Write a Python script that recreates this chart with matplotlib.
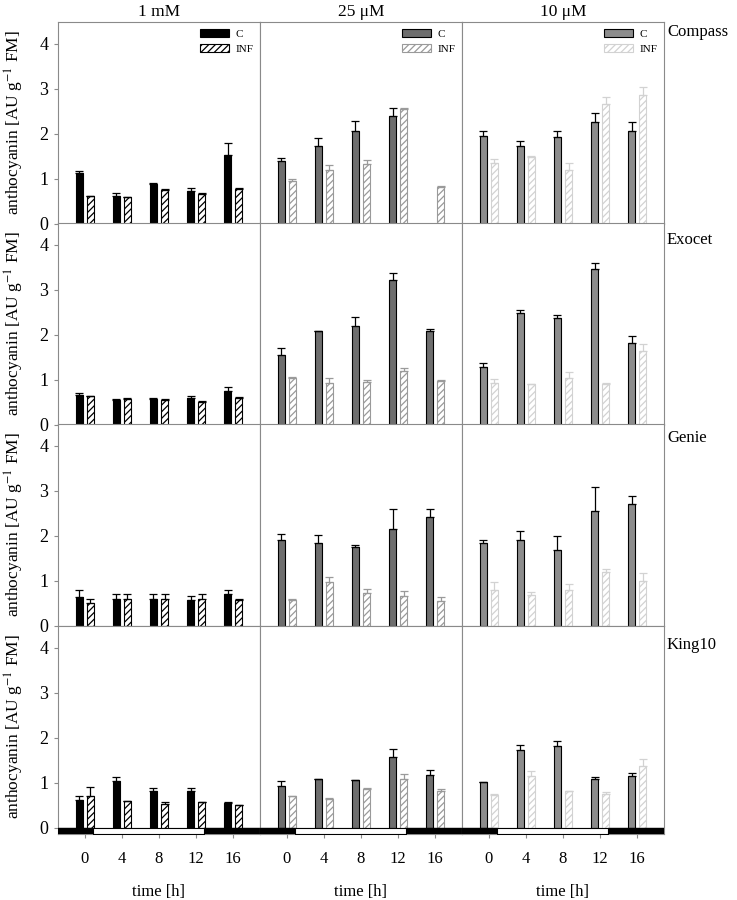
import numpy as np
import matplotlib
matplotlib.use('Agg')
import matplotlib.pyplot as plt
from matplotlib.patches import Patch

plt.rcParams['font.family'] = ['Liberation Serif', 'DejaVu Serif']
plt.rcParams['mathtext.fontset'] = 'stix'
plt.rcParams['hatch.linewidth'] = 0.9

# data: rows = concentration (1 mM, 25 uM, 10 uM), cols = time 0..16 h
times = [0, 4, 8, 12, 16]
concentrations = ['1 mM', '25 \u03bcM', '10 \u03bcM']
cultivars = ['Compass', 'Exocet', 'Genie', 'King10']

compass_c = [[1.13, 0.61, 0.87, 0.72, 1.52],
             [1.38, 1.72, 2.06, 2.39, np.nan],
             [1.95, 1.72, 1.93, 2.25, 2.05]]
compass_c_err = [[0.04, 0.07, 0.03, 0.06, 0.26],
                 [0.08, 0.17, 0.22, 0.17, np.nan],
                 [0.11, 0.12, 0.12, 0.20, 0.21]]
compass_inf = [[0.61, 0.59, 0.75, 0.66, 0.77],
               [0.94, 1.20, 1.32, 2.54, 0.81],
               [1.35, 1.48, 1.20, 2.65, 2.85]]
compass_inf_err = [[0.01, 0.01, 0.01, 0.01, 0.01],
                   [0.06, 0.09, 0.10, 0.02, 0.02],
                   [0.08, 0.01, 0.15, 0.17, 0.19]]

exocet_c = [[0.65, 0.55, 0.57, 0.58, 0.75],
            [1.55, 2.07, 2.20, 3.21, 2.07],
            [1.28, 2.47, 2.37, 3.46, 1.81]]
exocet_c_err = [[0.06, 0.02, 0.02, 0.05, 0.09],
                [0.14, 0.01, 0.18, 0.16, 0.05],
                [0.09, 0.08, 0.06, 0.14, 0.15]]
exocet_inf = [[0.63, 0.57, 0.55, 0.51, 0.60],
              [1.04, 0.92, 0.95, 1.19, 0.97],
              [0.93, 0.90, 1.04, 0.91, 1.63]]
exocet_inf_err = [[0.01, 0.01, 0.01, 0.01, 0.01],
                  [0.01, 0.12, 0.05, 0.06, 0.02],
                  [0.09, 0.01, 0.12, 0.01, 0.15]]

genie_c = [[0.63, 0.59, 0.58, 0.56, 0.70],
           [1.90, 1.84, 1.75, 2.14, 2.41],
           [1.83, 1.89, 1.68, 2.54, 2.71]]
genie_c_err = [[0.15, 0.11, 0.12, 0.10, 0.08],
               [0.13, 0.17, 0.04, 0.44, 0.18],
               [0.08, 0.20, 0.30, 0.53, 0.16]]
genie_inf = [[0.51, 0.59, 0.58, 0.59, 0.56],
             [0.57, 0.96, 0.72, 0.65, 0.55],
             [0.78, 0.67, 0.80, 1.19, 0.99]]
genie_inf_err = [[0.08, 0.10, 0.12, 0.10, 0.04],
                 [0.01, 0.11, 0.09, 0.11, 0.08],
                 [0.19, 0.08, 0.13, 0.06, 0.17]]

king10_c = [[0.61, 1.03, 0.82, 0.82, 0.54],
            [0.93, 1.07, 1.05, 1.56, 1.17],
            [1.01, 1.73, 1.81, 1.07, 1.14]]
king10_c_err = [[0.09, 0.10, 0.05, 0.06, 0.02],
                [0.10, 0.01, 0.01, 0.18, 0.11],
                [0.01, 0.10, 0.12, 0.06, 0.07]]
king10_inf = [[0.69, 0.59, 0.52, 0.56, 0.50],
              [0.70, 0.63, 0.85, 1.07, 0.81],
              [0.73, 1.14, 0.81, 0.74, 1.36]]
king10_inf_err = [[0.21, 0.01, 0.04, 0.01, 0.01],
                  [0.01, 0.03, 0.03, 0.12, 0.05],
                  [0.01, 0.11, 0.01, 0.04, 0.17]]

c_means = [compass_c, exocet_c, genie_c, king10_c]
c_errs = [compass_c_err, exocet_c_err, genie_c_err, king10_c_err]
inf_means = [compass_inf, exocet_inf, genie_inf, king10_inf]
inf_errs = [compass_inf_err, exocet_inf_err, genie_inf_err, king10_inf_err]

# styling per concentration column
c_colors = ['black', '#6e6e6e', '#8c8c8c']
inf_colors = ['black', '#9a9a9a', '#d2d2d2']
spine_col = '#8a8a8a'

W, H = 737, 900
fig = plt.figure(figsize=(W / 100, H / 100), dpi=100)

left0 = 58
col_w = 202
row_top = [22, 223, 424, 626]
row_h = 201.5
ymax = 4.48
ybot = -0.155
unit = row_h / ymax
xlim = (-0.72, 4.72)
x = np.arange(len(times))
bw = 0.19
label_y = [32, 240, 438, 645]

for r in range(4):
    for c in range(3):
        bottom_px = row_top[r] + row_h
        lo = 0
        if r == 3:
            bottom_px += -ybot * unit
            lo = ybot
        ax = fig.add_axes([(left0 + c * col_w) / W, 1 - bottom_px / H,
                           col_w / W, (bottom_px - row_top[r]) / H])
        ax.set_xlim(*xlim)
        ax.set_ylim(lo, ymax)
        for s in ax.spines.values():
            s.set_color(spine_col)
            s.set_linewidth(0.8)

        cm = np.array(c_means[r][c], dtype=float)
        ce = np.array(c_errs[r][c], dtype=float)
        im = np.array(inf_means[r][c], dtype=float)
        ie = np.array(inf_errs[r][c], dtype=float)

        ax.bar(x - 0.15, cm, bw, color=c_colors[c], edgecolor='black',
               linewidth=0.8, label='C', zorder=2)
        ax.errorbar(x - 0.15, cm, yerr=[np.zeros_like(ce), ce], fmt='none',
                    ecolor='black', elinewidth=0.9, capsize=2.6, capthick=0.9, zorder=3)
        ax.bar(x + 0.15, im, bw, color='white', edgecolor=inf_colors[c],
               hatch='/////', linewidth=0.8, label='INF', zorder=2)
        ax.errorbar(x + 0.15, im, yerr=[np.zeros_like(ie), ie], fmt='none',
                    ecolor=inf_colors[c], elinewidth=0.9, capsize=2.6, capthick=0.9, zorder=3)

        if r == 3:
            ax.axhline(0, color=spine_col, linewidth=0.8, zorder=1)
            ax.broken_barh([(xlim[0], 0.22 - xlim[0]), (3.2, xlim[1] - 3.2)],
                           (ybot, -ybot), facecolors='black', edgecolor='black', zorder=4)
            ax.broken_barh([(0.22, 3.2 - 0.22)], (ybot, -ybot), facecolors='white',
                           edgecolor='black', linewidth=0.8, zorder=4)
            ax.set_xticks(x)
            ax.set_xticklabels(times, fontsize=12)
            ax.tick_params(axis='x', direction='out', length=3, color=spine_col, pad=9)
            ax.set_xlabel('time [h]', fontsize=12, labelpad=12)
        else:
            ax.set_xticks([])

        if c == 0:
            ax.set_yticks([0, 1, 2, 3, 4])
            ax.set_yticklabels(['0', '1', '2', '3', '4'], fontsize=13)
            ax.tick_params(axis='y', direction='out', length=3, color=spine_col, pad=4)
            ax.set_ylabel('anthocyanin [AU g$^{-1}$ FM]', fontsize=12.5)
            ymid = (0.5 * ymax - lo) / (ymax - lo)
            ax.yaxis.set_label_coords(-0.16, ymid)
        else:
            ax.set_yticks([])

        if r == 0:
            ax.set_title(concentrations[c], fontsize=12.5, pad=4)
            handles = [Patch(facecolor=c_colors[c], edgecolor='black', linewidth=0.8, label='C'),
                       Patch(facecolor='white', edgecolor=inf_colors[c], hatch='/////',
                             linewidth=0.8, label='INF')]
            ax.legend(handles=handles, loc='upper right', frameon=False, fontsize=8,
                      handlelength=2.6, handleheight=0.8, handletextpad=0.6,
                      labelspacing=0.45, borderaxespad=0.2)

    fig.text(667 / W, 1 - label_y[r] / H, cultivars[r], fontsize=12,
             ha='left', va='center')

fig.savefig('out.png', dpi=100)
